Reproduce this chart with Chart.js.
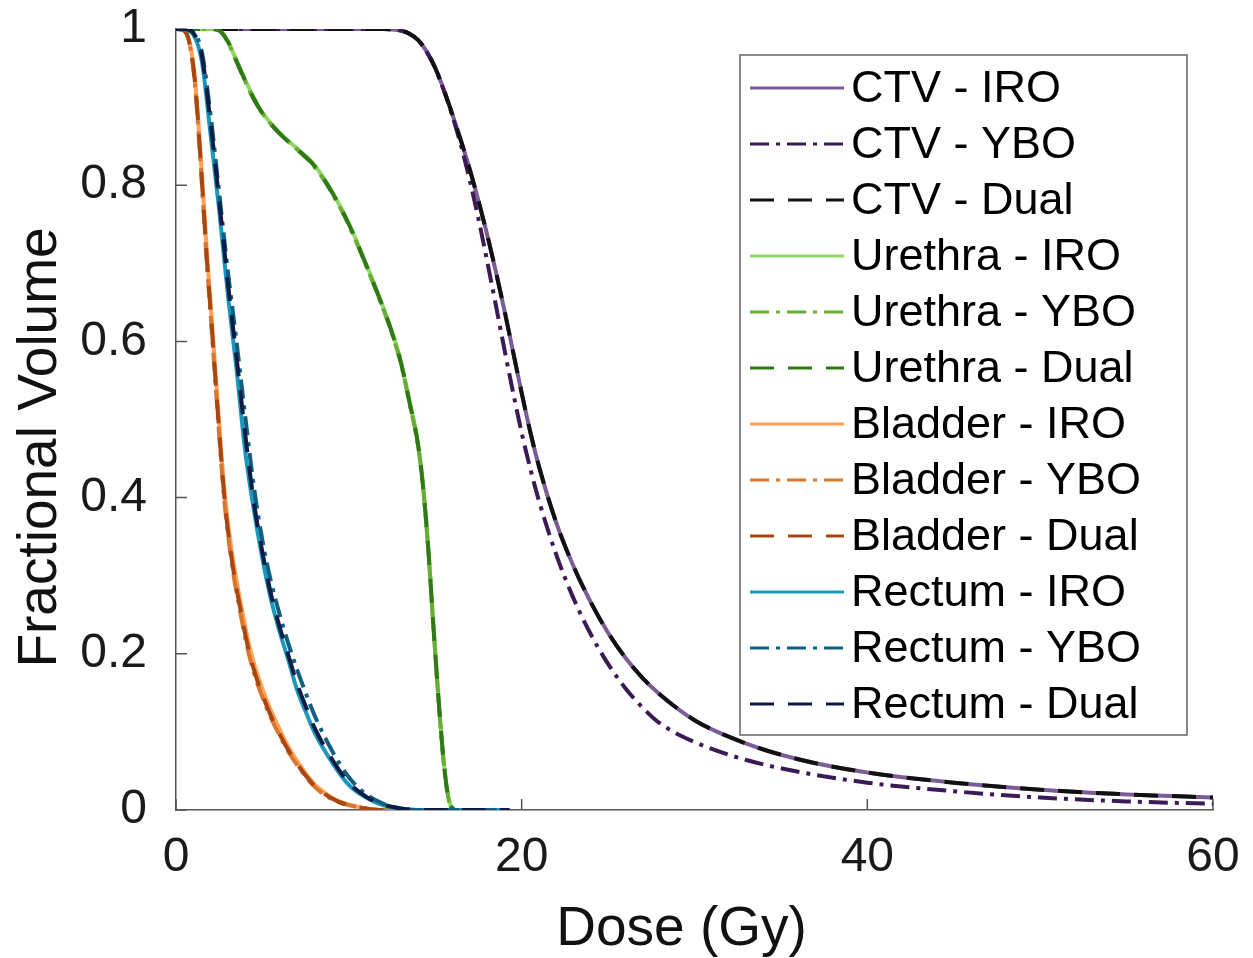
<!DOCTYPE html>
<html>
<head>
<meta charset="utf-8">
<title>DVH</title>
<script src="https://cdn.jsdelivr.net/npm/chart.js@4.4.1/dist/chart.umd.min.js"></script>
<style>
  html, body { margin: 0; padding: 0; background: #fff; }
</style>
</head>
<body>
<canvas id="dvh" width="1253" height="958"></canvas>
<script>
// dose grids (Gy) and fractional volumes
const ctvDose = [0, 12, 12.5, 13, 13.5, 14, 14.5, 15, 15.5, 16, 16.5, 17, 17.5, 18, 18.5, 19, 19.5, 20, 20.5, 21, 22, 23, 24, 25, 26, 27, 28, 30, 33, 36, 40, 45, 50, 55, 60];
const ctvIRO  = [1, 1, 0.9995, 0.998, 0.994, 0.986, 0.971, 0.95, 0.922, 0.89, 0.856, 0.82, 0.78, 0.737, 0.69, 0.64, 0.587, 0.534, 0.484, 0.44, 0.368, 0.312, 0.266, 0.227, 0.195, 0.169, 0.148, 0.115, 0.085, 0.065, 0.048, 0.035, 0.026, 0.02, 0.016];
const ctvYBO  = [1, 1, 0.9995, 0.998, 0.994, 0.986, 0.971, 0.95, 0.921, 0.888, 0.85, 0.806, 0.757, 0.703, 0.647, 0.59, 0.535, 0.483, 0.437, 0.396, 0.327, 0.271, 0.225, 0.187, 0.156, 0.131, 0.111, 0.087, 0.064, 0.049, 0.035, 0.024, 0.016, 0.011, 0.008];
const ctvDual = [1, 1, 0.9995, 0.998, 0.994, 0.986, 0.971, 0.95, 0.922, 0.89, 0.856, 0.82, 0.78, 0.737, 0.69, 0.64, 0.587, 0.534, 0.484, 0.44, 0.368, 0.312, 0.266, 0.227, 0.195, 0.169, 0.148, 0.115, 0.085, 0.065, 0.048, 0.035, 0.026, 0.02, 0.016];

const urethraDose = [0, 2, 2.5, 3, 3.5, 4, 4.5, 5, 6, 7, 8, 9, 10, 11, 12, 12.5, 13, 13.5, 14, 14.3, 14.6, 14.9, 15.2, 15.5, 15.8, 16.1];
const urethraIRO  = [1, 1, 0.998, 0.984, 0.96, 0.935, 0.912, 0.893, 0.867, 0.847, 0.826, 0.793, 0.751, 0.699, 0.643, 0.612, 0.575, 0.525, 0.47, 0.415, 0.335, 0.235, 0.14, 0.06, 0.012, 0];
const urethraYBO  = [1, 1, 0.998, 0.983, 0.958, 0.933, 0.91, 0.892, 0.866, 0.846, 0.824, 0.791, 0.749, 0.697, 0.641, 0.61, 0.573, 0.522, 0.467, 0.412, 0.332, 0.232, 0.138, 0.058, 0.011, 0];
const urethraDual = [1, 1, 0.998, 0.984, 0.959, 0.934, 0.911, 0.892, 0.866, 0.846, 0.825, 0.792, 0.75, 0.698, 0.642, 0.611, 0.574, 0.523, 0.468, 0.413, 0.333, 0.233, 0.139, 0.059, 0.011, 0];

const bladderDose = [0, 0.4, 0.7, 1, 1.2, 1.4, 1.6, 1.8, 2, 2.4, 2.8, 3.2, 3.7, 4.3, 5.2, 6, 6.6, 7.4, 8.1, 9, 9.7, 11, 12, 16];
const bladderIRO  = [1, 0.999, 0.99, 0.955, 0.91, 0.845, 0.78, 0.71, 0.65, 0.525, 0.41, 0.335, 0.27, 0.205, 0.143, 0.103, 0.077, 0.05, 0.031, 0.016, 0.009, 0.002, 0, 0];
const bladderYBO  = [1, 0.999, 0.988, 0.95, 0.9, 0.835, 0.765, 0.695, 0.635, 0.51, 0.395, 0.32, 0.255, 0.192, 0.133, 0.095, 0.071, 0.046, 0.028, 0.014, 0.008, 0.002, 0, 0];
const bladderDual = [1, 0.999, 0.989, 0.952, 0.905, 0.84, 0.77, 0.7, 0.64, 0.515, 0.4, 0.325, 0.26, 0.196, 0.136, 0.097, 0.073, 0.047, 0.029, 0.015, 0.008, 0.002, 0, 0];

const rectumDose = [0, 0.5, 1, 1.5, 2, 2.5, 3, 3.5, 4, 4.5, 5, 5.5, 6, 6.5, 7, 7.5, 8, 9, 10, 11, 12, 13, 14, 19.3];
const rectumIRO  = [1, 0.999, 0.993, 0.958, 0.865, 0.768, 0.66, 0.565, 0.46, 0.385, 0.322, 0.269, 0.228, 0.192, 0.154, 0.126, 0.1, 0.062, 0.032, 0.016, 0.006, 0.002, 0, 0];
const rectumYBO  = [1, 1, 0.996, 0.97, 0.89, 0.79, 0.69, 0.6, 0.505, 0.415, 0.345, 0.292, 0.25, 0.213, 0.18, 0.15, 0.122, 0.077, 0.042, 0.02, 0.008, 0.002, 0, 0];
const rectumDual = [1, 1, 0.995, 0.965, 0.88, 0.78, 0.675, 0.58, 0.482, 0.395, 0.33, 0.276, 0.234, 0.198, 0.162, 0.133, 0.106, 0.066, 0.035, 0.017, 0.007, 0.002, 0, 0];

const xTicks = [0, 20, 40, 60];
const yTicks = [0, 0.2, 0.4, 0.6, 0.8, 1];

const SOLID = [];
const DASHDOT = [19, 7, 4, 7];
const DASHED = [24, 14];

function pts(dose, vol) {
  return dose.map((d, i) => ({ x: d, y: vol[i] }));
}

const series = [
  ['CTV - IRO', ctvDose, ctvIRO, '#7b5b98', SOLID],
  ['CTV - YBO', ctvDose, ctvYBO, '#3c1a55', DASHDOT],
  ['CTV - Dual', ctvDose, ctvDual, '#111111', DASHED],
  ['Urethra - IRO', urethraDose, urethraIRO, '#8fd866', SOLID],
  ['Urethra - YBO', urethraDose, urethraYBO, '#69ad35', DASHDOT],
  ['Urethra - Dual', urethraDose, urethraDual, '#2f7a16', DASHED],
  ['Bladder - IRO', bladderDose, bladderIRO, '#ffa055', SOLID],
  ['Bladder - YBO', bladderDose, bladderYBO, '#d8782f', DASHDOT],
  ['Bladder - Dual', bladderDose, bladderDual, '#a94712', DASHED],
  ['Rectum - IRO', rectumDose, rectumIRO, '#1c97bd', SOLID],
  ['Rectum - YBO', rectumDose, rectumYBO, '#0f5f80', DASHDOT],
  ['Rectum - Dual', rectumDose, rectumDual, '#0c1c45', DASHED]
];

const FONT = '"Liberation Sans", Arial, Helvetica, sans-serif';

// inward tick marks, MATLAB style
const tickMarks = {
  id: 'tickMarks',
  beforeDatasetsDraw(chart) {
    const { ctx, chartArea: a, scales: { x, y } } = chart;
    ctx.save();
    ctx.strokeStyle = '#555';
    ctx.lineWidth = 1.5;
    ctx.beginPath();
    x.ticks.forEach(t => {
      const px = x.getPixelForValue(t.value);
      ctx.moveTo(px, a.bottom);
      ctx.lineTo(px, a.bottom - 11);
    });
    y.ticks.forEach(t => {
      const py = y.getPixelForValue(t.value);
      ctx.moveTo(a.left, py);
      ctx.lineTo(a.left + 11, py);
    });
    ctx.stroke();
    ctx.restore();
  }
};

// axis titles
const axisTitles = {
  id: 'axisTitles',
  afterDraw(chart) {
    const { ctx, chartArea: a } = chart;
    ctx.save();
    ctx.fillStyle = '#111';
    ctx.font = '55px ' + FONT;
    ctx.textAlign = 'center';
    ctx.textBaseline = 'alphabetic';
    ctx.fillText('Dose (Gy)', (a.left + a.right) / 2 - 13, a.bottom + 135);
    ctx.translate(56, (a.top + a.bottom) / 2 + 28);
    ctx.rotate(-Math.PI / 2);
    ctx.fillText('Fractional Volume', 0, 0);
    ctx.restore();
  }
};

// boxed legend in the upper right of the axes
const boxLegend = {
  id: 'boxLegend',
  afterDatasetsDraw(chart) {
    const { ctx, chartArea: a } = chart;
    const left = a.left + 564, top = a.top + 26, w = 447, h = 680;
    ctx.save();
    ctx.fillStyle = '#fff';
    ctx.fillRect(left, top, w, h);
    ctx.strokeStyle = '#666';
    ctx.lineWidth = 1.5;
    ctx.strokeRect(left, top, w, h);
    ctx.font = '45px ' + FONT;
    ctx.textBaseline = 'middle';
    ctx.textAlign = 'left';
    chart.data.datasets.forEach((ds, i) => {
      const cy = top + 33 + i * 56;
      ctx.strokeStyle = ds.borderColor;
      ctx.lineWidth = 3;
      ctx.setLineDash(ds.borderDash);
      ctx.beginPath();
      ctx.moveTo(left + 10, cy);
      ctx.lineTo(left + 104, cy);
      ctx.stroke();
      ctx.setLineDash([]);
      ctx.fillStyle = '#000';
      ctx.fillText(ds.label, left + 111, cy + 2);
    });
    ctx.restore();
  }
};

new Chart(document.getElementById('dvh').getContext('2d'), {
  type: 'line',
  data: {
    datasets: series.map((s, i) => ({
      label: s[0],
      data: pts(s[1], s[2]),
      borderColor: s[3],
      borderDash: s[4],
      borderWidth: 4,
      pointRadius: 0,
      fill: false,
      cubicInterpolationMode: 'monotone',
      order: series.length - i
    }))
  },
  options: {
    responsive: false,
    animation: false,
    layout: { padding: { top: 29, right: 40, left: 0, bottom: 0 } },
    plugins: { legend: { display: false }, tooltip: { enabled: false } },
    scales: {
      x: {
        type: 'linear',
        min: 0, max: 60,
        afterFit: s => { s.height = 148; s.paddingLeft = 0; s.paddingRight = 0; },
        afterBuildTicks: s => { s.ticks = xTicks.map(v => ({ value: v })); },
        grid: { display: false, drawTicks: false },
        border: { display: true, color: '#555', width: 1.5 },
        ticks: { padding: 19, color: '#1a1a1a', font: { size: 48, family: FONT }, maxRotation: 0, callback: v => String(v) }
      },
      y: {
        type: 'linear',
        min: 0, max: 1,
        afterFit: s => { s.width = 176; s.paddingTop = 0; s.paddingBottom = 0; },
        afterBuildTicks: s => { s.ticks = yTicks.map(v => ({ value: v })); },
        grid: { display: false, drawTicks: false },
        border: { display: true, color: '#555', width: 1.5 },
        ticks: { padding: 29, color: '#1a1a1a', font: { size: 48, family: FONT }, callback: v => String(v) }
      }
    }
  },
  plugins: [tickMarks, boxLegend, axisTitles]
});
</script>
</body>
</html>
